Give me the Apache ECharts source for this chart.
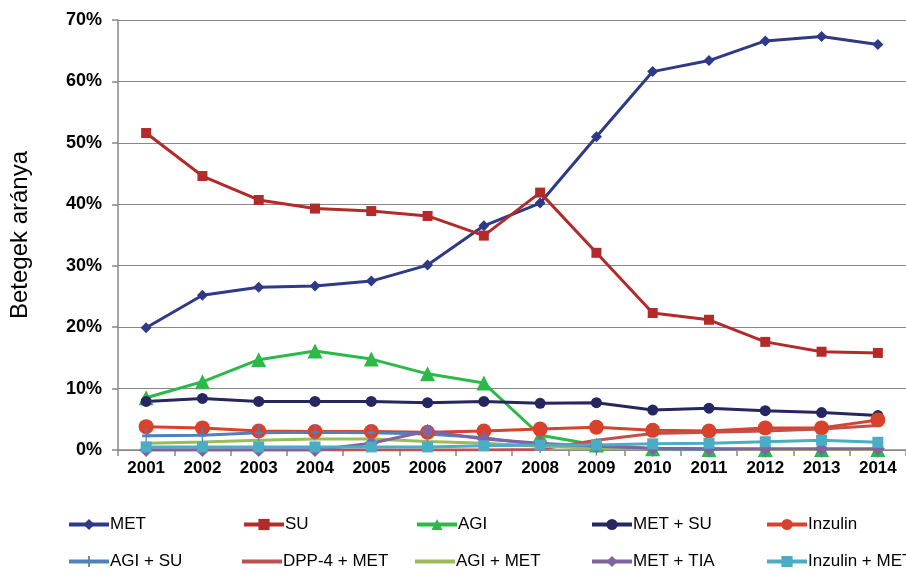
<!DOCTYPE html>
<html><head><meta charset="utf-8">
<script src="https://cdn.jsdelivr.net/npm/echarts@6/dist/echarts.min.js"></script>
<style>html,body{margin:0;padding:0;background:#fff}#c{width:906px;height:572px}</style>
</head><body><div id="c"></div>
<script>
const years = ['2001','2002','2003','2004','2005','2006','2007','2008','2009','2010','2011','2012','2013','2014'];
const yTicks = [0,10,20,30,40,50,60,70];
const MET       = [19.9,25.2,26.5,26.7,27.5,30.1,36.5,40.2,51.0,61.6,63.4,66.6,67.3,66.0];
const SU        = [51.6,44.6,40.7,39.3,38.9,38.1,34.9,41.9,32.1,22.3,21.2,17.6,16.0,15.8];
const AGI       = [8.5,11.1,14.7,16.1,14.8,12.4,10.9,2.4,0.8,0.2,0.1,0.1,0.1,0.1];
const MET_SU    = [7.9,8.4,7.9,7.9,7.9,7.7,7.9,7.6,7.7,6.5,6.8,6.4,6.1,5.6];
const INZULIN   = [3.8,3.6,3.1,3.0,3.0,2.9,3.1,3.4,3.7,3.2,3.1,3.6,3.6,4.9];
const AGI_SU    = [2.3,2.4,2.8,2.9,2.8,2.6,2.0,0.8,0.4,0.2,0.1,0.1,0.1,0.1];
const DPP4_MET  = [0,0,0,0,0,0,0,0.1,1.6,2.7,2.9,3.1,3.4,4.0];
const AGI_MET   = [1.1,1.3,1.6,1.8,1.8,1.4,1.1,0.6,0.3,0.2,0.2,0.1,0.1,0.1];
const MET_TIA   = [0,0,0,0,1.1,3.1,1.8,1.1,0.6,0.3,0.2,0.2,0.2,0.2];
const INZ_MET   = [0.5,0.5,0.5,0.5,0.5,0.5,0.7,0.8,0.8,1.0,1.1,1.35,1.6,1.25];

const plus = 'path://M4.2,0 L5.8,0 L5.8,4.2 L10,4.2 L10,5.8 L5.8,5.8 L5.8,10 L4.2,10 L4.2,5.8 L0,5.8 L0,4.2 L4.2,4.2 Z';
const defs = [
  {name:'MET', data:MET, color:'#2E3A87', symbol:'diamond', size:11},
  {name:'SU', data:SU, color:'#B22A2A', symbol:'rect', size:10},
  {name:'AGI', data:AGI, color:'#2DB84A', symbol:'triangle', size:15},
  {name:'MET + SU', data:MET_SU, color:'#262660', symbol:'circle', size:11},
  {name:'Inzulin', data:INZULIN, color:'#D8412C', symbol:'circle', size:15},
  {name:'AGI + SU', data:AGI_SU, color:'#4F81BD', symbol:plus, size:[8,16]},
  {name:'DPP-4 + MET', data:DPP4_MET, color:'#C0504D', symbol:'none', size:0},
  {name:'AGI + MET', data:AGI_MET, color:'#9BBB59', symbol:'none', size:0},
  {name:'MET + TIA', data:MET_TIA, color:'#8064A2', symbol:'diamond', size:14},
  {name:'Inzulin + MET', data:INZ_MET, color:'#4BACC6', symbol:'rect', size:11}
];
const series = defs.map(d => ({
  name:d.name, type:'line', data:d.data, symbol:d.symbol, symbolSize:d.size,
  showSymbol: d.symbol !== 'none',
  lineStyle:{color:d.color, width:3}, itemStyle:{color:d.color},
  emphasis:{disabled:true}, animation:false
}));
const colX = [62,237,410,585,760];
const rowY = [511,548];
const legends = defs.map((d,i) => ({
  left: colX[i%5], top: rowY[Math.floor(i/5)],
  data:[{name:d.name, icon: d.symbol==='none' ? 'rect' : undefined}],
  itemWidth:40, itemHeight: d.symbol==='none' ? 4 : 14,
  itemGap:4, selectedMode:false,
  lineStyle:{width:4},
  textStyle:{fontFamily:'Liberation Sans', fontSize:17, color:'#000', padding:[0,0,0,-4]}
}));
const chart = echarts.init(document.getElementById('c'));
chart.setOption({
  animation:false,
  legend: legends,
  grid:{left:118, top:20, width:795, height:430, containLabel:false},
  xAxis:{type:'category', data:years, boundaryGap:true,
    axisLine:{lineStyle:{color:'#888', width:1.5}},
    axisTick:{show:true, length:6, lineStyle:{color:'#888', width:1.5}},
    axisLabel:{color:'#000', fontSize:17, fontWeight:'bold', fontFamily:'Liberation Sans', margin:10}
  },
  yAxis:{type:'value', min:0, max:70, interval:10,
    name:'Betegek aránya', nameLocation:'middle', nameGap:86,
    nameTextStyle:{fontSize:24, color:'#000', fontFamily:'Liberation Sans'},
    axisLine:{show:true, lineStyle:{color:'#888', width:1.5}},
    axisTick:{show:true, length:6, lineStyle:{color:'#888', width:1.5}},
    splitLine:{lineStyle:{color:'#888', width:1.2}},
    axisLabel:{color:'#000', fontSize:18, fontWeight:'bold', fontFamily:'Liberation Sans', margin:16,
      formatter: v => yTicks.includes(v) ? v + '%' : ''}
  },
  series: series
});
</script></body></html>
